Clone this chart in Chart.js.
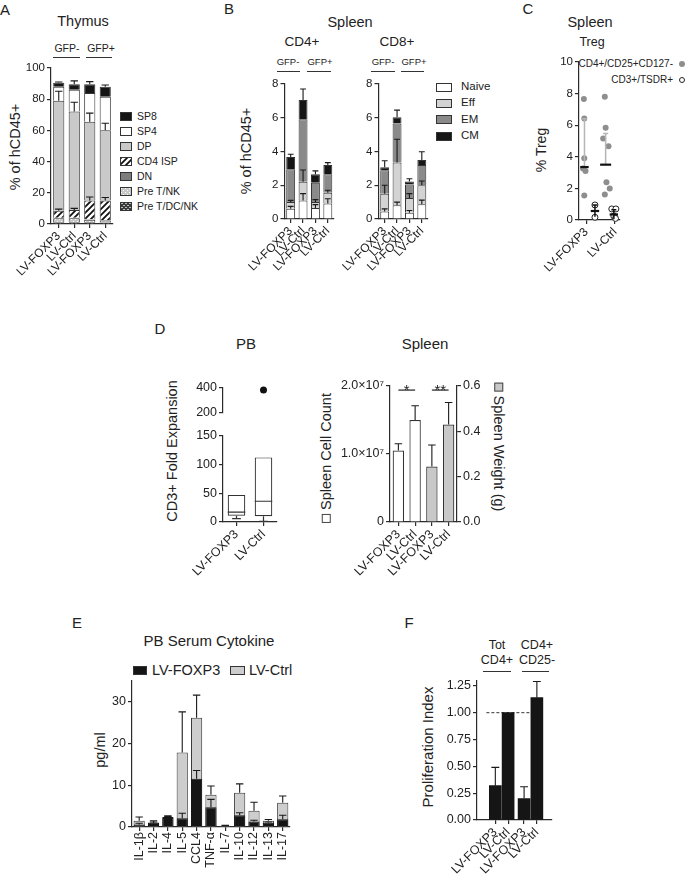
<!DOCTYPE html>
<html>
<head>
<meta charset="utf-8">
<title>Figure</title>
<script src="https://cdn.jsdelivr.net/npm/chart.js@4.4.1/dist/chart.umd.min.js"></script>
<style>
  html, body { margin: 0; padding: 0; background: #fff; }
  body { width: 685px; height: 877px; position: relative; overflow: hidden;
         font-family: "Liberation Sans", Arial, Helvetica, sans-serif; color: #222; }
  canvas { position: absolute; }
  .t { position: absolute; white-space: nowrap; line-height: 1; }
  .ln { position: absolute; height: 0; border-top: 1.2px solid #333; }
  .sw { position: absolute; box-sizing: border-box; border: 1px solid #333; }
  .sq { display: inline-block; width: 9px; height: 9px; border: 1px solid #444; box-sizing: border-box; margin-right: 4px; }
  .dot { position: absolute; width: 6px; height: 6px; border-radius: 50%; box-sizing: border-box; }
</style>
</head>
<body>
<script>
// ---- data ----
// A: thymus subsets, stacked
const thyLabels = ['LV-FOXP3', 'LV-Ctrl', 'LV-FOXP3', 'LV-Ctrl'];
const thyPreTDCNK = [1.2, 1.2, 1.2, 1.0];
const thyPreTNK = [2.5, 2.5, 1.5, 1.2];
const thyDN = [0.3, 0.3, 0.3, 0.3];
const thyCD4ISP = [4.5, 5.0, 12.0, 12.5];
const thyDP = [70.5, 63.0, 50.5, 45.0];
const thySP4 = [9.0, 14.0, 18.5, 21.5];
const thySP8 = [2.5, 3.5, 5.5, 6.5];
const thyErrCD4ISP = [9.5, 10.0, 17.3, 17.0];
const thyErrDP = [85, 78, 71, 64.5];
const thyErrSP8 = [91, 91.7, 91.2, 89];

// B: spleen memory subsets
const cd4Naive = [0.6, 1.1, 0.65, 0.92];
const cd4Eff = [0.4, 1.1, 0.35, 0.63];
const cd4EM = [1.95, 3.7, 1.15, 1.1];
const cd4CM = [0.72, 1.15, 0.5, 0.55];
const cd4ErrNaive = [0.75, 1.5, 0.85, 1.2];
const cd4ErrEff = [1.1, 2.9, 1.15, 1.7];
const cd4ErrCM = [3.83, 7.7, 2.85, 3.34];
const cd8Naive = [0.45, 0.82, 0.37, 0.87];
const cd8Eff = [1.05, 2.53, 0.88, 1.13];
const cd8EM = [1.38, 2.3, 0.8, 1.2];
const cd8CM = [0.19, 0.37, 0.17, 0.3];
const cd8ErrNaive = [0.6, 1.0, 0.5, 1.12];
const cd8ErrEff = [2.0, 4.72, 1.5, 2.25];
const cd8ErrCM = [3.45, 6.45, 2.38, 3.98];

// C: Treg dot plot
const tregCats = ['LV-FOXP3', 'LV-Ctrl'];
const tregTickX = [1.8, 8.8];
const tregCd25Foxp3 = [7.65, 6.42, 3.9, 3.25, 3.1, 1.55];
const tregCd25Foxp3X = [1.2, 1.3, 1.3, 1.0, 1.6, 1.3];
const tregCd25Ctrl = [7.8, 5.83, 5.16, 4.67, 2.38, 2.0, 1.62];
const tregCd25CtrlX = [6.3, 6.5, 5.9, 7.2, 6.7, 7.5, 6.3];
const tregTsdrFoxp3 = [0.95, 0.17];
const tregTsdrFoxp3X = [3.9, 3.9];
const tregTsdrCtrl = [0.7, 0.7, 0.25, 0.1];
const tregTsdrCtrlX = [8.0, 9.0, 8.5, 8.9];
const tregGroupX = [1.35, 6.5, 3.9, 8.5];
const tregCenter = [3.35, 3.5, 0.57, 0.35];
const tregLo = [3.35, 3.5, 0.2, 0.05];
const tregHi = [6.4, 5.47, 0.95, 0.65];

// D: PB box plot and spleen
const pbLabels = ['LV-FOXP3', 'LV-Ctrl'];
const pbMin = [6, 1];
const pbQ1 = [11, 10];
const pbMedian = [17, 36];
const pbQ3 = [47, 112];
const pbMax = [47, 112];
const pbOutlier = [null, 380];
const spLabels = ['LV-FOXP3', 'LV-Ctrl', 'LV-FOXP3', 'LV-Ctrl'];
const spCount = [1.05e7, 1.5e7, null, null];
const spCountErr = [1.15e7, 1.71e7, null, null];
const spWeight = [null, null, 0.245, 0.43];
const spWeightErr = [null, null, 0.34, 0.527];
const spSig = [{ from: 0, to: 1, y: 1.94e7, label: '*' }, { from: 2, to: 3, y: 1.94e7, label: '**' }];

// E: serum cytokines
const cytoLabels = ['IL-1\u03b2', 'IL-2', 'IL-4', 'IL-5', 'CCL4', 'TNF-\u03b1', 'IL-7', 'IL-10', 'IL-12', 'IL-13', 'IL-17'];
const cytoFoxp3 = [0.6, 1.1, 2.4, 2.1, 11.5, 4.7, 0.2, 2.8, 1.3, 1.0, 1.85];
const cytoFoxp3Err = [0.9, 1.5, 2.7, 3.3, 13.5, 6.6, 0.3, 3.4, 1.6, 1.2, 2.8];
const cytoCtrl = [1.5, 0.9, 2.2, 17.8, 26.1, 7.7, 0.3, 8.2, 3.9, 1.5, 5.8];
const cytoCtrlErr = [2.4, 1.2, 2.5, 27.5, 31.5, 9.8, 0.4, 10.3, 5.9, 1.8, 7.4];

// F: proliferation index
const profLabels = ['LV-FOXP3', 'LV-Ctrl', 'LV-FOXP3', 'LV-Ctrl'];
const profPos = [0.7, 1.7, 2.95, 3.95];
const profIndex = [0.32, 1.0, 0.2, 1.14];
const profErr = [0.49, null, 0.31, 1.29];
const profRef = 1.0;

// ---- helpers ----
Chart.defaults.font.family = '"Liberation Sans", Arial, Helvetica, sans-serif';
Chart.defaults.color = '#222';
Chart.defaults.animation = false;
Chart.defaults.responsive = false;
Chart.defaults.devicePixelRatio = 1;
Chart.defaults.plugins.legend.display = false;
Chart.defaults.plugins.tooltip.enabled = false;

const AX = '#2b2b2b';

function txt(x, y, s, size, opt) {
  opt = opt || {};
  const d = document.createElement('div');
  d.className = 't';
  d.innerHTML = s;
  d.style.left = x + 'px';
  d.style.top = y + 'px';
  d.style.fontSize = size + 'px';
  const ax = opt.align === 'left' ? '0' : opt.align === 'right' ? '-100%' : '-50%';
  d.style.transform = 'translate(' + ax + ',-50%)' + (opt.rot ? ' rotate(' + opt.rot + 'deg)' : '');
  document.body.appendChild(d);
  return d;
}
function hline(x0, x1, y) {
  const d = document.createElement('div');
  d.className = 'ln';
  d.style.left = x0 + 'px'; d.style.top = y + 'px'; d.style.width = (x1 - x0) + 'px';
  document.body.appendChild(d);
}
function swatch(x, y, w, h, bg) {
  const d = document.createElement('div');
  d.className = 'sw';
  d.style.left = x + 'px'; d.style.top = (y - h / 2) + 'px';
  d.style.width = w + 'px'; d.style.height = h + 'px';
  d.style.background = bg;
  document.body.appendChild(d);
}
function dot(x, y, bg, border) {
  const d = document.createElement('div');
  d.className = 'dot';
  d.style.left = (x - 3) + 'px'; d.style.top = (y - 3) + 'px';
  d.style.background = bg;
  if (border) d.style.border = border;
  document.body.appendChild(d);
}

// fill patterns for the thymus subsets
function tile(bg, draw, n) {
  const c = document.createElement('canvas');
  c.width = n; c.height = n;
  const g = c.getContext('2d');
  g.fillStyle = bg; g.fillRect(0, 0, n, n);
  draw(g);
  return c;
}
const hatchTile = tile('#fff', g => {
  g.strokeStyle = '#111'; g.lineWidth = 1.8;
  g.beginPath();
  g.moveTo(-1, 7); g.lineTo(7, -1);
  g.moveTo(-4, 4); g.lineTo(4, -4);
  g.moveTo(2, 10); g.lineTo(10, 2);
  g.stroke();
}, 6);
const lightTile = tile('#c8c8c8', g => {
  g.fillStyle = '#fff'; g.fillRect(0, 0, 1, 1); g.fillRect(2, 2, 1, 1);
}, 4);
const darkTile = tile('#3c3c3c', g => {
  g.fillStyle = '#bdbdbd'; g.fillRect(0, 0, 2, 1); g.fillRect(2, 2, 2, 1);
}, 4);
const pctx = document.createElement('canvas').getContext('2d');
const patHatch = pctx.createPattern(hatchTile, 'repeat');
const patLight = pctx.createPattern(lightTile, 'repeat');
const patDark = pctx.createPattern(darkTile, 'repeat');
const cssPat = c => 'url(' + c.toDataURL() + ')';

function yAx(o) {
  const s = {
    type: 'linear', position: o.position || 'left', min: o.min, max: o.max,
    border: { display: true, color: AX, width: 1.2 },
    grid: { display: true, drawOnChartArea: false, drawTicks: true, tickLength: 4, color: AX, lineWidth: 1.2 },
    ticks: { stepSize: o.step, includeBounds: false, padding: 2, color: '#222', font: { size: o.size } },
    afterFit: a => { a.width = o.width; }
  };
  if (o.cb) s.ticks.callback = o.cb;
  if (o.stacked) s.stacked = true;
  return s;
}
function xAx(o) {
  const s = {
    type: o.type || 'category',
    border: { display: true, color: AX, width: 1.2 },
    grid: { display: true, drawOnChartArea: false, drawTicks: true, tickLength: 4, color: AX, lineWidth: 1.2, offset: false },
    ticks: { autoSkip: false, maxRotation: o.rot, minRotation: o.rot, padding: 1, color: '#222', font: { size: o.size } },
    afterFit: a => { a.height = o.height; }
  };
  if (o.type === 'linear') {
    s.min = o.min; s.max = o.max;
    s.afterBuildTicks = a => { a.ticks = o.tickAt.map(v => ({ value: v })); };
    s.ticks.callback = (v, i) => o.tickLabels[i];
  }
  if (o.stacked) s.stacked = true;
  return s;
}

// canvas placed so that the plot area lands on the given page rectangle
function place(area, m, config) {
  const c = document.createElement('canvas');
  const w = area[2] - area[0] + m.l + m.r;
  const h = area[3] - area[1] + m.t + m.b;
  c.width = w; c.height = h;
  c.style.left = (area[0] - m.l) + 'px';
  c.style.top = (area[1] - m.t) + 'px';
  c.style.width = w + 'px'; c.style.height = h + 'px';
  document.body.appendChild(c);
  config.options = config.options || {};
  config.options.layout = { padding: { top: m.t, left: 0, right: m.rightAxis ? 0 : m.r, bottom: m.noX ? m.b : 0 } };
  return new Chart(c, config);
}

// error bars: whisker from the top of each bar to ds.errHi[i]
Chart.register({
  id: 'errbars',
  afterDatasetsDraw(chart) {
    const ctx = chart.ctx;
    chart.data.datasets.forEach((ds, di) => {
      if (!ds.errHi) return;
      const meta = chart.getDatasetMeta(di);
      const ys = chart.scales[meta.yAxisID];
      meta.data.forEach((el, i) => {
        const v = ds.errHi[i];
        if (v == null || ds.data[i] == null) return;
        const yTop = ys.getPixelForValue(v);
        const cap = (el.width || 10) * 0.33;
        ctx.save();
        ctx.strokeStyle = '#1a1a1a'; ctx.lineWidth = 1.1;
        ctx.beginPath();
        ctx.moveTo(el.x, el.y); ctx.lineTo(el.x, yTop);
        ctx.moveTo(el.x - cap, yTop); ctx.lineTo(el.x + cap, yTop);
        ctx.stroke();
        ctx.restore();
      });
    });
  }
});

const boxPlugin = {
  id: 'boxes',
  afterDatasetsDraw(chart, args, o) {
    const meta = chart.getDatasetMeta(0), ys = chart.scales.y, ctx = chart.ctx;
    const py = v => ys.getPixelForValue(v);
    ctx.save();
    ctx.strokeStyle = '#333'; ctx.lineWidth = 1.2;
    meta.data.forEach((el, i) => {
      const x = el.x, hw = el.width / 2;
      ctx.beginPath();
      ctx.moveTo(x - hw, py(o.med[i])); ctx.lineTo(x + hw, py(o.med[i]));
      ctx.moveTo(x, py(o.q1[i])); ctx.lineTo(x, py(o.min[i]));
      ctx.moveTo(x - hw * 0.5, py(o.min[i])); ctx.lineTo(x + hw * 0.5, py(o.min[i]));
      if (o.max[i] > o.q3[i]) {
        ctx.moveTo(x, py(o.q3[i])); ctx.lineTo(x, py(o.max[i]));
        ctx.moveTo(x - hw * 0.5, py(o.max[i])); ctx.lineTo(x + hw * 0.5, py(o.max[i]));
      }
      ctx.stroke();
    });
    ctx.restore();
  }
};

const sigPlugin = {
  id: 'sig',
  afterDatasetsDraw(chart, args, o) {
    const ctx = chart.ctx, xs = chart.scales.x, ys = chart.scales.y;
    ctx.save();
    ctx.strokeStyle = '#222'; ctx.lineWidth = 1.2;
    ctx.fillStyle = '#222'; ctx.font = '15px "Liberation Sans", Arial, sans-serif';
    ctx.textAlign = 'center'; ctx.textBaseline = 'alphabetic';
    o.pairs.forEach(p => {
      const x0 = xs.getPixelForValue(p.from), x1 = xs.getPixelForValue(p.to), y = ys.getPixelForValue(p.y);
      ctx.beginPath(); ctx.moveTo(x0, y); ctx.lineTo(x1, y); ctx.stroke();
      ctx.fillText(p.label, (x0 + x1) / 2, y + 5);
    });
    ctx.restore();
  }
};

const dotPlugin = {
  id: 'dotstats',
  afterDatasetsDraw(chart, args, o) {
    const xs = chart.scales.x, ys = chart.scales.y, ctx = chart.ctx;
    o.x.forEach((gx, i) => {
      const x = xs.getPixelForValue(gx);
      const hw = o.half[i];
      const yc = ys.getPixelForValue(o.center[i]);
      const yl = ys.getPixelForValue(o.lo[i]), yh = ys.getPixelForValue(o.hi[i]);
      ctx.save();
      ctx.strokeStyle = o.lineColor[i]; ctx.lineWidth = 1.5;
      ctx.beginPath();
      ctx.moveTo(x, yl); ctx.lineTo(x, yh);
      ctx.moveTo(x - 2.5, yh); ctx.lineTo(x + 2.5, yh);
      ctx.stroke();
      ctx.strokeStyle = '#111'; ctx.lineWidth = 2.2;
      ctx.beginPath(); ctx.moveTo(x - hw, yc); ctx.lineTo(x + hw, yc); ctx.stroke();
      ctx.restore();
    });
  }
};

function stackBar(label, data, bg, err) {
  const d = { label, data, backgroundColor: bg, borderColor: '#333', borderWidth: 1 };
  if (err) d.errHi = err;
  return d;
}

// ---------------- Panel A ----------------
txt(5, 9, 'A', 15);
txt(83, 21, 'Thymus', 14.5);
txt(67, 48, 'GFP-', 10.5); txt(101, 48, 'GFP+', 10.5);
hline(53, 80, 57); hline(86, 112, 57);
txt(15, 147, '% of hCD45+', 14.5, { rot: -90 });
[['SP8', '#151515'], ['SP4', '#fff'], ['DP', '#c9c9c9'], ['CD4 ISP', cssPat(hatchTile)],
 ['DN', '#7d7d7d'], ['Pre T/NK', cssPat(lightTile)], ['Pre T/DC/NK', cssPat(darkTile)]].forEach((r, i) => {
  const y = 116 + i * 15;
  swatch(120, y, 12, 9, r[1]);
  txt(137, y, r[0], 10.5, { align: 'left' });
});
place([51, 67, 113, 224], { l: 40, r: 6, t: 8, b: 70 }, {
  type: 'bar',
  data: { labels: thyLabels, datasets: [
    stackBar('Pre T/DC/NK', thyPreTDCNK, patDark),
    stackBar('Pre T/NK', thyPreTNK, patLight),
    stackBar('DN', thyDN, '#7d7d7d'),
    stackBar('CD4 ISP', thyCD4ISP, patHatch, thyErrCD4ISP),
    stackBar('DP', thyDP, '#c9c9c9', thyErrDP),
    stackBar('SP4', thySP4, '#ffffff'),
    stackBar('SP8', thySP8, '#151515', thyErrSP8)
  ] },
  options: {
    datasets: { bar: { categoryPercentage: 1, barPercentage: 0.72 } },
    scales: {
      x: xAx({ rot: 45, size: 12, height: 70, stacked: true }),
      y: yAx({ min: 0, max: 100, step: 20, size: 11.5, width: 40, stacked: true })
    }
  }
});

// ---------------- Panel B ----------------
txt(229, 8, 'B', 15);
txt(350, 22, 'Spleen', 14.5);
txt(302, 42, 'CD4+', 13.5); txt(397, 42, 'CD8+', 13.5);
txt(288, 62, 'GFP-', 9.5); txt(320, 62, 'GFP+', 9.5);
txt(383, 62, 'GFP-', 9.5); txt(414, 62, 'GFP+', 9.5);
hline(277, 300, 71); hline(307, 331, 71); hline(371, 395, 71); hline(401, 424, 71);
txt(246, 151, '% of hCD45+', 14.5, { rot: -90 });
[['Naive', '#fff'], ['Eff', '#d3d3d3'], ['EM', '#8a8a8a'], ['CM', '#161616']].forEach((r, i) => {
  const y = 87 + i * 16.4;
  swatch(436, y, 16, 9, r[1]);
  txt(461, y, r[0], 11.5, { align: 'left' });
});
function memChart(area, naive, eff, em, cm, eN, eE, eC) {
  place(area, { l: 30, r: 6, t: 8, b: 70 }, {
    type: 'bar',
    data: { labels: thyLabels, datasets: [
      stackBar('Naive', naive, '#ffffff', eN),
      stackBar('Eff', eff, '#d3d3d3', eE),
      stackBar('EM', em, '#8a8a8a'),
      stackBar('CM', cm, '#161616', eC)
    ] },
    options: {
      datasets: { bar: { categoryPercentage: 1, barPercentage: 0.72 } },
      scales: {
        x: xAx({ rot: 45, size: 12, height: 70, stacked: true }),
        y: yAx({ min: 0, max: 8, step: 2, size: 11.5, width: 30, stacked: true })
      }
    }
  });
}
memChart([276, 83, 334, 219], cd4Naive, cd4Eff, cd4EM, cd4CM, cd4ErrNaive, cd4ErrEff, cd4ErrCM);
memChart([370, 83, 428, 219], cd8Naive, cd8Eff, cd8EM, cd8CM, cd8ErrNaive, cd8ErrEff, cd8ErrCM);

// ---------------- Panel C ----------------
txt(528, 8, 'C', 15);
txt(590, 22, 'Spleen', 14.5);
txt(592, 42, 'Treg', 12.5);
txt(541, 150, '% Treg', 14, { rot: -90 });
txt(673, 64, 'CD4+/CD25+CD127-', 10, { align: 'right' });
dot(682, 64, '#8e8e8e');
txt(673, 80, 'CD3+/TSDR+', 10, { align: 'right' });
dot(682, 80, '#fff', '1px solid #222');
const pts = (vals, xs) => vals.map((v, i) => ({ x: xs[i], y: v }));
place([570, 61, 620, 220], { l: 30, r: 6, t: 8, b: 70 }, {
  type: 'scatter',
  data: { datasets: [
    { label: 'CD4+/CD25+CD127-', data: pts(tregCd25Foxp3, tregCd25Foxp3X).concat(pts(tregCd25Ctrl, tregCd25CtrlX)),
      pointRadius: 3, pointBackgroundColor: '#8e8e8e', pointBorderWidth: 0, clip: false },
    { label: 'CD3+/TSDR+', data: pts(tregTsdrFoxp3, tregTsdrFoxp3X).concat(pts(tregTsdrCtrl, tregTsdrCtrlX)),
      pointRadius: 3, pointBackgroundColor: '#fff', pointBorderColor: '#222', pointBorderWidth: 1, clip: false }
  ] },
  options: {
    scales: {
      x: xAx({ type: 'linear', min: 0, max: 10, tickAt: tregTickX, tickLabels: tregCats, rot: 45, size: 12, height: 70 }),
      y: yAx({ min: 0, max: 10, step: 2, size: 11.5, width: 30 })
    },
    plugins: { dotstats: { x: tregGroupX, center: tregCenter, lo: tregLo, hi: tregHi,
      half: [4.2, 5.5, 4.2, 4.2], lineColor: ['#b5b5b5', '#b5b5b5', '#111', '#111'] } }
  },
  plugins: [dotPlugin]
});

// ---------------- Panel D ----------------
txt(160, 328, 'D', 15);
txt(246, 343, 'PB', 15);
txt(425, 343, 'Spleen', 15);
txt(172, 451, 'CD3+ Fold Expansion', 14.5, { rot: -90 });
txt(326, 458, '<span class="sq" style="background:#fff"></span>Spleen Cell Count', 14.5, { rot: -90 });
txt(499, 447, '<span class="sq" style="background:#c8c8c8"></span>Spleen Weight (g)', 14.5, { rot: 90 });
// upper segment of the broken axis
place([223, 386, 277, 414], { l: 40, r: 6, t: 8, b: 8, noX: true }, {
  type: 'line',
  data: { labels: pbLabels, datasets: [
    { label: 'outlier', data: pbOutlier, showLine: false, pointRadius: 3.5, pointBackgroundColor: '#111', pointBorderWidth: 0, clip: false }
  ] },
  options: {
    scales: {
      x: { type: 'category', display: false, offset: true },
      y: yAx({ min: 200, max: 400, step: 200, size: 12.5, width: 40 })
    }
  }
});
// lower segment with the boxes
place([223, 434, 277, 522], { l: 40, r: 6, t: 8, b: 70 }, {
  type: 'bar',
  data: { labels: pbLabels, datasets: [
    { label: 'box', data: pbLabels.map((_, i) => [pbQ1[i], pbQ3[i]]), backgroundColor: '#fff',
      borderColor: '#333', borderWidth: 1.2, borderSkipped: false }
  ] },
  options: {
    datasets: { bar: { categoryPercentage: 1, barPercentage: 0.65 } },
    scales: {
      x: xAx({ rot: 45, size: 12.5, height: 70 }),
      y: yAx({ min: 0, max: 150, step: 50, size: 12.5, width: 40 })
    },
    plugins: { boxes: { min: pbMin, q1: pbQ1, med: pbMedian, q3: pbQ3, max: pbMax } }
  },
  plugins: [boxPlugin]
});
// spleen cell count / weight
place([390, 386, 457, 522], { l: 60, r: 40, t: 10, b: 70, rightAxis: true }, {
  type: 'bar',
  data: { labels: spLabels, datasets: [
    { label: 'Spleen Cell Count', data: spCount, yAxisID: 'y', backgroundColor: '#fff', borderColor: '#333', borderWidth: 1.2, errHi: spCountErr },
    { label: 'Spleen Weight (g)', data: spWeight, yAxisID: 'y1', backgroundColor: '#c8c8c8', borderColor: '#333', borderWidth: 1.2, errHi: spWeightErr }
  ] },
  options: {
    datasets: { bar: { grouped: false, categoryPercentage: 1, barPercentage: 0.68 } },
    scales: {
      x: xAx({ rot: 45, size: 12.5, height: 70 }),
      y: yAx({ min: 0, max: 2e7, step: 1e7, size: 12.5, width: 60,
               cb: v => v === 0 ? '0' : (v / 1e7).toFixed(1) + '\u00d710\u2077' }),
      y1: yAx({ position: 'right', min: 0, max: 0.6, step: 0.2, size: 12.5, width: 40, cb: v => v.toFixed(1) })
    },
    plugins: { sig: { pairs: spSig } }
  },
  plugins: [sigPlugin]
});

// ---------------- Panel E ----------------
txt(77, 622, 'E', 15);
txt(209, 640, 'PB Serum Cytokine', 15);
swatch(133, 670, 14, 9, '#151515');
txt(152, 670, 'LV-FOXP3', 14.5, { align: 'left' });
swatch(230, 670, 15, 9, '#cdcdcd');
txt(249, 670, 'LV-Ctrl', 14.5, { align: 'left' });
txt(100, 750, 'pg/ml', 14.5, { rot: -90 });
place([132, 677, 293, 827], { l: 35, r: 6, t: 6, b: 48 }, {
  type: 'bar',
  data: { labels: cytoLabels, datasets: [
    { label: 'LV-FOXP3', data: cytoFoxp3, backgroundColor: '#151515', borderColor: '#151515', borderWidth: 1, errHi: cytoFoxp3Err },
    { label: 'LV-Ctrl', data: cytoCtrl, backgroundColor: '#cdcdcd', borderColor: '#3a3a3a', borderWidth: 1, errHi: cytoCtrlErr }
  ] },
  options: {
    datasets: { bar: { grouped: false, categoryPercentage: 1, barPercentage: 0.78 } },
    scales: {
      x: xAx({ rot: 90, size: 12.5, height: 48 }),
      y: yAx({ min: 0, max: 35, step: 10, size: 12.5, width: 35 })
    }
  }
});

// ---------------- Panel F ----------------
txt(409, 622, 'F', 15);
txt(497, 645, 'Tot', 12.5); txt(497, 660, 'CD4+', 12.5);
txt(537, 645, 'CD4+', 12.5); txt(537, 660, 'CD25-', 12.5);
hline(483, 511, 671); hline(522, 549, 671);
txt(427, 747, 'Proliferation Index', 15, { rot: -90 });
place([477, 677, 552, 820], { l: 38, r: 6, t: 6, b: 62 }, {
  type: 'bar',
  data: { datasets: [
    { type: 'line', label: 'ref', data: [{ x: 0, y: profRef }, { x: 4.4, y: profRef }], borderColor: '#333',
      borderWidth: 1, borderDash: [3, 2], pointRadius: 0, order: 2 },
    { label: 'Proliferation Index', data: profPos.map((x, i) => ({ x, y: profIndex[i] })), backgroundColor: '#151515',
      borderWidth: 0, barThickness: 12, errHi: profErr, order: 1 }
  ] },
  options: {
    scales: {
      x: xAx({ type: 'linear', min: 0, max: 4.4, tickAt: profPos, tickLabels: profLabels, rot: 45, size: 12.5, height: 62 }),
      y: yAx({ min: 0, max: 1.3, step: 0.25, size: 12.5, width: 38, cb: v => v.toFixed(2) })
    }
  }
});
</script>
</body>
</html>
